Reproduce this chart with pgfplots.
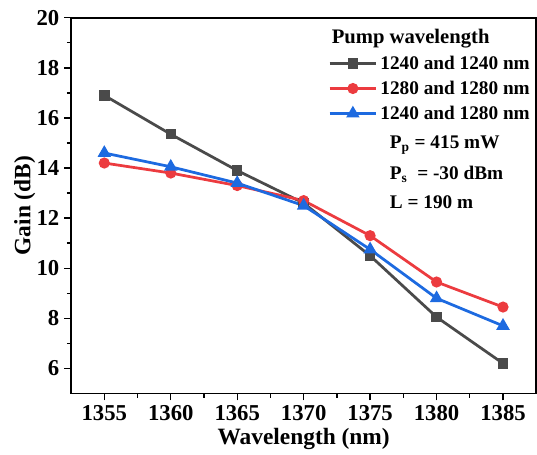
\documentclass[border=0pt]{standalone}
\usepackage{fontspec}
\setmainfont{Liberation Serif}[BoldFont={Liberation Serif Bold}]
\usepackage{pgfplots}
\pgfplotsset{compat=1.18}

\definecolor{cblack}{HTML}{4A4A4A}
\definecolor{cred}{HTML}{EC3B3F}
\definecolor{cblue}{HTML}{1D6AE0}

\begin{document}
\bfseries
\begin{tikzpicture}
\begin{axis}[
    name=ax,
    scale only axis,
    width=338pt, height=273pt,
    xmin=1352.5, xmax=1387.5,
    ymin=5, ymax=20,
    xtick={1355,1360,...,1385},
    ytick={6,8,...,20},
    minor x tick num=1,
    minor y tick num=1,
    tick align=outside,
    tick pos=left,
    major tick length=5pt,
    minor tick length=3pt,
    every tick/.style={line width=1pt, black},
    axis line style={line width=1.1pt},
    /pgf/number format/assume math mode=true,
    /pgf/number format/1000 sep={},
    ticklabel style={font=\fontsize{16.5}{18}\selectfont\rmfamily\bfseries},
    xlabel={Wavelength (nm)},
    ylabel={Gain (dB)},
    label style={font=\fontsize{17}{19}\selectfont\rmfamily\bfseries},
    xlabel style={yshift=1pt},
    ylabel style={yshift=-6pt},
    legend style={draw=none, fill=none, at={(rel axis cs:0.552,0.907)}, anchor=north west,
        font=\fontsize{14}{16}\selectfont\rmfamily\bfseries, row sep=3pt,
        inner sep=0pt},
    legend cell align=left,
    legend image code/.code={
        \draw[#1, mark repeat=2, mark phase=2] plot coordinates {(0pt,0pt) (17pt,0pt) (34pt,0pt)};
    },
]
\addplot[cblack, line width=2pt, mark=square*, mark size=2.8pt, mark options={solid}] coordinates {
    (1355,16.9) (1360,15.35) (1365,13.9) (1370,12.6) (1375,10.5) (1380,8.05) (1385,6.2)
};
\addplot[cred, line width=2pt, mark=*, mark size=3pt, mark options={solid}] coordinates {
    (1355,14.2) (1360,13.8) (1365,13.3) (1370,12.7) (1375,11.3) (1380,9.45) (1385,8.45)
};
\addplot[cblue, line width=2pt, mark=triangle*, mark size=3.7pt, mark options={solid}] coordinates {
    (1355,14.6) (1360,14.05) (1365,13.4) (1370,12.5) (1375,10.75) (1380,8.8) (1385,7.7)
};
\legend{1240 and 1240 nm, 1280 and 1280 nm, 1240 and 1280 nm}
\node[anchor=west, font=\fontsize{15}{17}\selectfont\rmfamily\bfseries] at (rel axis cs:0.55,0.945) {Pump wavelength};
\node[anchor=west, font=\fontsize{14}{16}\selectfont\rmfamily\bfseries] at (rel axis cs:0.675,0.66) {P\textsubscript{p} = 415 mW};
\node[anchor=west, font=\fontsize{14}{16}\selectfont\rmfamily\bfseries] at (rel axis cs:0.675,0.583) {P\textsubscript{s} \ = -30 dBm};
\node[anchor=west, font=\fontsize{14}{16}\selectfont\rmfamily\bfseries] at (rel axis cs:0.675,0.508) {L = 190 m};
\end{axis}
\path ([xshift=-7pt]ax.outer west) ([yshift=4pt]ax.outer north);
\end{tikzpicture}
\end{document}
